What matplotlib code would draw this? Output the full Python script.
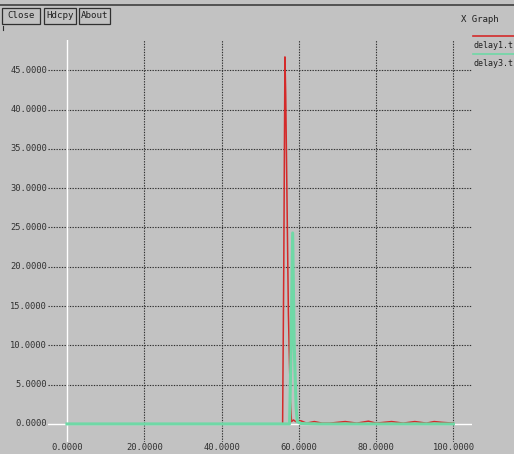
import matplotlib
matplotlib.use("Agg")
import matplotlib.pyplot as plt
from matplotlib.lines import Line2D
from matplotlib.patches import Rectangle

W, H = 514, 454
BG = "#c2c2c2"
FG = "#303030"
MONO = "DejaVu Sans Mono"

# delay traces (time, delay)
t_delay1 = [0, 10, 20, 30, 40, 50, 55.8, 56.1, 56.4, 56.6, 56.9, 57.3, 57.8, 58.1,
            58.6, 59.2, 60.5, 62.0, 64.0, 66.0, 68.0, 72.0, 75.0, 78.0, 80.0,
            84.0, 87.0, 90.0, 93.0, 95.0, 97.0, 100.0]
v_delay1 = [0, 0, 0, 0, 0, 0, 0, 20.0, 46.7, 42.0, 30.0, 14.0, 3.0, 0.3,
            0.5, 0.3, 0.4, 0.1, 0.3, 0.1, 0.1, 0.3, 0.1, 0.35, 0.1,
            0.3, 0.1, 0.3, 0.1, 0.3, 0.2, 0.1]
t_delay3 = [0, 10, 20, 30, 40, 50, 55, 57.6, 58.0, 58.4, 58.8, 59.3, 59.6,
            60.5, 65.0, 70.0, 80.0, 90.0, 100.0]
v_delay3 = [0, 0, 0, 0, 0, 0, 0, 0, 10.0, 24.3, 10.0, 2.0, 0.3,
            0.05, 0.0, 0.0, 0.0, 0.0, 0.0]

y_ticks = [0, 5, 10, 15, 20, 25, 30, 35, 40, 45]
x_ticks = [0, 20, 40, 60, 80, 100]
legend_names = ["delay1.t", "delay3.t"]
trace_colors = ["#d42a2a", "#6fd8a6"]
buttons = ["Close", "Hdcpy", "About"]

fig = plt.figure(figsize=(W / 100, H / 100), dpi=100, facecolor=BG)

# plot area in pixel coordinates
left, right, top, bottom = 48, 472, 40, 442
ax = fig.add_axes([left / W, 1 - bottom / H, (right - left) / W, (bottom - top) / H])
ax.set_facecolor(BG)
for s in ax.spines.values():
    s.set_visible(False)
ax.set_xlim(-4.9, 104.8)
ax.set_ylim(-2.3, 48.85)
ax.set_xticks([])
ax.set_yticks([])

grid_kw = dict(color=FG, lw=0.8, dashes=(1.2, 1.2), zorder=1)
for yv in y_ticks[1:]:
    ax.axhline(yv, **grid_kw)
for xv in x_ticks[1:]:
    ax.axvline(xv, **grid_kw)
for yv in y_ticks:
    ax.text(-5.2, yv, f"{yv:.4f}", ha="right", va="center",
            fontsize=6.3, family=MONO, color=FG, clip_on=False)


def px(x, y):
    return x / W, 1 - y / H


# x labels sit in the strip under the plot area
for xv in x_ticks:
    xd = ax.transData.transform((xv, 0))[0]
    fig.text(xd / W, 1 - 447.5 / H, f"{xv:.4f}", ha="center", va="center",
             fontsize=6.3, family=MONO, color=FG)

# zero axes in white
ax.axhline(0, color="white", lw=1.0, zorder=2)
ax.axvline(0, color="white", lw=1.0, zorder=2)

ax.plot(t_delay1, v_delay1, color=trace_colors[0], lw=1.1, zorder=3)
ax.plot(t_delay3, v_delay3, color=trace_colors[1], lw=2.2, zorder=4)

# window frame line and buttons
fig.add_artist(Line2D([0, 1], [1 - 5 / H] * 2, color="#404040", lw=1.2))
fig.add_artist(Line2D([3 / W] * 2, [1 - 26 / H, 1 - 30 / H], color=FG, lw=0.8))
button_spans = [(2, 40), (44, 76), (79, 110)]
for label, (x0, x1) in zip(buttons, button_spans):
    fig.add_artist(Rectangle(px(x0, 24), (x1 - x0) / W, 16 / H,
                             transform=fig.transFigure, fc=BG, ec="#303030", lw=0.9))
    fig.text(*px((x0 + x1) / 2, 16), label, ha="center", va="center",
             fontsize=6.6, family=MONO, color="#202020")

fig.text(*px(461, 19), "X Graph", ha="left", va="center", fontsize=6.5,
         family=MONO, color="#202020")

# legend squeezed against the right edge
for i, (name, col) in enumerate(zip(legend_names, trace_colors)):
    yl = 36 + 18 * i
    fig.add_artist(Line2D([473 / W, 1], [1 - yl / H] * 2, color=col, lw=1.2))
    fig.text(*px(473.5, yl + 9), name, ha="left", va="center", fontsize=6.0,
             family=MONO, color="#202020")

fig.savefig("out.png", dpi=100, facecolor=BG)
